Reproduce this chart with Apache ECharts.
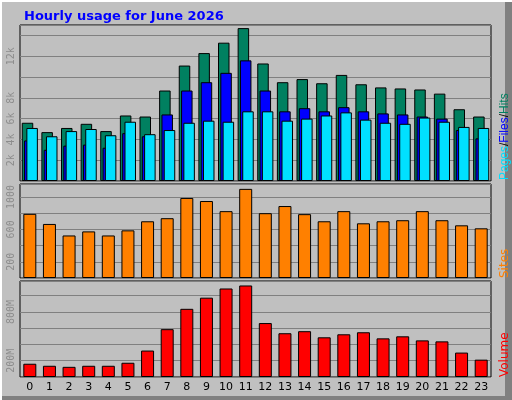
<!DOCTYPE html>
<html><head><meta charset="utf-8">
<script src="https://cdn.jsdelivr.net/npm/echarts@6/dist/echarts.min.js"></script>
<style>html,body{margin:0;padding:0;background:#c0c0c0}#c{width:512px;height:400px}</style>
</head><body><div id="c"></div>
<script>
const hours = ['0','1','2','3','4','5','6','7','8','9','10','11','12','13','14','15','16','17','18','19','20','21','22','23'];
const hits = [5600,4700,5100,5500,4800,6300,6200,8700,11100,12300,13300,14700,11300,9500,9800,9400,10200,9300,9000,8900,8800,8400,6900,6200];
const files = [3900,3000,3400,3500,3200,4600,4300,6400,8700,9500,10400,11600,8700,6700,7000,6700,7100,6700,6500,6400,6200,6000,4900,4100];
const pages = [5100,4300,4800,5000,4400,5700,4500,4900,5600,5800,5700,6700,6700,5800,6000,6300,6600,5900,5600,5500,6100,5700,5200,5100];
const sites = [792,667,525,575,525,588,700,738,988,950,825,1100,800,888,788,700,825,675,700,713,825,713,650,613];
const volumeMB = [163,138,125,138,138,175,325,588,838,975,1088,1125,663,538,563,488,525,550,475,500,450,438,300,213];

const chart = echarts.init(document.getElementById('c'));
const L = 20, R = 21;
const grids = [
  {left:L,right:R,top:25,height:156},
  {left:L,right:R,top:184,height:94},
  {left:L,right:R,top:281,height:96}
];
const lbl = {rotate:90,color:'#8c8c8c',fontFamily:'DejaVu Sans Mono',fontSize:10,margin:4};
const split = {show:true,lineStyle:{color:'#808080',width:1}};
const bs = {borderColor:'#000',borderWidth:1};
function xa(i,show){return {type:'category',gridIndex:i,data:hours,axisLine:{show:false},axisTick:{show:false},
  axisLabel:{show:show,color:'#000',fontFamily:'DejaVu Sans',fontSize:11,margin:5}};}
chart.setOption({
  animation:false,
  backgroundColor:'#c0c0c0',
  title:{text:'Hourly usage for June 2026',left:19,top:5,textStyle:{color:'#0000ff',fontSize:13,fontWeight:'bold',fontFamily:'DejaVu Sans'}},
  grid:grids.map(g=>Object.assign({show:true,borderColor:'#000',borderWidth:1,backgroundColor:'#c0c0c0'},g)),
  xAxis:[xa(0,false),xa(1,false),xa(2,true)],
  yAxis:[
    {type:'value',gridIndex:0,min:0,max:15000,interval:2000,splitLine:split,axisLine:{show:false},axisTick:{show:false},
     axisLabel:Object.assign({},lbl,{formatter:v=>(v===0||v===10000||v>=14000)?'':(v/1000)+'k'})},
    {type:'value',gridIndex:1,min:0,max:1160,interval:200,splitLine:split,axisLine:{show:false},axisTick:{show:false},
     axisLabel:Object.assign({},lbl,{formatter:v=>(v===200||v===600||v===1000)?String(v):''})},
    {type:'value',gridIndex:2,min:0,max:1180,interval:200,splitLine:split,axisLine:{show:false},axisTick:{show:false},
     axisLabel:Object.assign({},lbl,{formatter:v=>(v===200||v===800)?v+'M':''})}
  ],
  series:[
    {type:'bar',xAxisIndex:0,yAxisIndex:0,data:hits,barWidth:11.5,barGap:'-80%',itemStyle:Object.assign({color:'#008060'},bs)},
    {type:'bar',xAxisIndex:0,yAxisIndex:0,data:files,barWidth:11.5,barGap:'-80%',itemStyle:Object.assign({color:'#0000ff'},bs)},
    {type:'bar',xAxisIndex:0,yAxisIndex:0,data:pages,barWidth:11.5,barGap:'-80%',itemStyle:Object.assign({color:'#00e0ff'},bs)},
    {type:'bar',xAxisIndex:1,yAxisIndex:1,data:sites,barWidth:13,itemStyle:Object.assign({color:'#ff8000'},bs)},
    {type:'bar',xAxisIndex:2,yAxisIndex:2,data:volumeMB,barWidth:13,itemStyle:Object.assign({color:'#ff0000'},bs)}
  ],
  graphic:[
    {type:'rect',shape:{x:505,y:0,width:7,height:400},style:{fill:'#808080'},silent:true},
    {type:'rect',shape:{x:0,y:396,width:512,height:4},style:{fill:'#808080'},silent:true},
    {type:'rect',shape:{x:0,y:0,width:2,height:400},style:{fill:'#ffffff'},silent:true},
    {type:'rect',shape:{x:0,y:0,width:512,height:2},style:{fill:'#ffffff'},silent:true},
    {type:'text',x:499,y:180,rotation:Math.PI/2,style:{text:'{p|Pages}{s|/}{f|Files}{s|/}{h|Hits}',font:'12px DejaVu Sans',
      rich:{p:{fill:'#00e0ff',fontSize:12},f:{fill:'#0000ff',fontSize:12},h:{fill:'#008060',fontSize:12},s:{fill:'#000',fontSize:12}}},silent:true},
    {type:'text',x:499,y:278,rotation:Math.PI/2,style:{text:'Sites',fill:'#ff8000',font:'12px DejaVu Sans'},silent:true},
    {type:'text',x:499,y:377,rotation:Math.PI/2,style:{text:'Volume',fill:'#ff0000',font:'12px DejaVu Sans'},silent:true}
  ]
});
</script></body></html>
